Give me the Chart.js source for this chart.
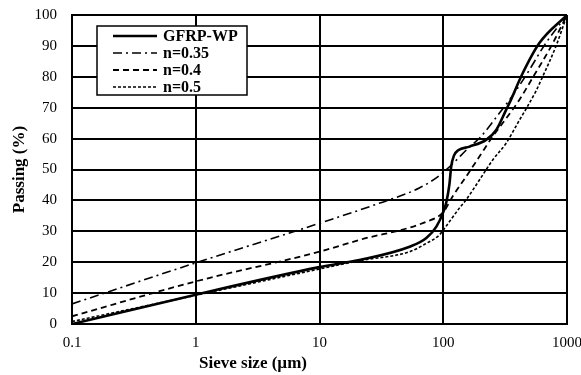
<!DOCTYPE html>
<html>
<head>
<meta charset="utf-8">
<script src="https://cdn.jsdelivr.net/npm/chart.js@4"></script>
<style>
  html, body { margin: 0; padding: 0; background: #fff; }
  canvas { display: block; }
</style>
</head>
<body>
<canvas id="c" width="581" height="375"></canvas>
<script>
// ---- data ----
const seriesNames = ['GFRP-WP', 'n=0.35', 'n=0.4', 'n=0.5'];
const gfrpSize = [0.1, 1, 10, 21, 53.5, 73, 88, 100, 106, 112, 116, 122, 132, 163, 222, 268, 322, 353, 426, 598, 1000];
const gfrpPass = [0, 9.5, 18.4, 20.7, 25, 27.8, 31.5, 36.2, 39.5, 45, 51, 54.5, 56.2, 57.4, 59.6, 62.8, 69.3, 72.6, 80.1, 90.9, 100];
const n035Size = [0.1, 1, 10, 30, 64, 93, 120, 160, 200, 275, 350, 467, 677, 1000];
const n035Pass = [6.5, 19.8, 32.6, 39, 44, 48, 52, 57, 60.5, 67.5, 73, 80.5, 91, 100];
const n040Size = [0.1, 1, 10, 21, 73, 100, 120, 153, 196, 251, 322, 413, 535, 743, 1000];
const n040Pass = [2.5, 13.8, 23.4, 27.2, 33.1, 36.2, 41.5, 47.7, 54.2, 60.7, 66.5, 72.6, 80.1, 89.8, 100];
const n050Size = [0.1, 1, 10, 21, 53.5, 73, 93, 100, 135, 153, 196, 251, 322, 413, 481, 563, 635, 816, 1000];
const n050Pass = [0.8, 9.3, 17.8, 20.5, 23.4, 26.1, 28.8, 30.4, 37.5, 40.2, 46.6, 53.1, 58.5, 66, 70.5, 75.5, 80, 90, 100];
const xTickValues = [0.1, 1, 10, 100, 1000];
const xTickLabels = ['0.1', '1', '10', '100', '1000'];
const xTitle = 'Sieve size (\u00b5m)';
const yTitle = 'Passing (%)';

const SERIF = '"Liberation Serif", "Times New Roman", serif';
const pts = (xs, ys) => xs.map((x, i) => ({ x: x, y: ys[i] }));

const styles = [
  { borderWidth: 2.6, borderDash: [] },
  { borderWidth: 1.6, borderDash: [9, 4, 2, 4] },
  { borderWidth: 1.8, borderDash: [6, 4] },
  { borderWidth: 1.6, borderDash: [3, 2] }
];
const sets = [[gfrpSize, gfrpPass], [n035Size, n035Pass], [n040Size, n040Pass], [n050Size, n050Pass]];

const datasets = sets.map((s, i) => ({
  label: seriesNames[i],
  data: pts(s[0], s[1]),
  borderColor: '#000',
  backgroundColor: '#000',
  borderWidth: styles[i].borderWidth,
  borderDash: styles[i].borderDash,
  pointRadius: 0,
  fill: false,
  cubicInterpolationMode: 'monotone',
  order: 3 - i
}));

const overlay = {
  id: 'overlay',
  afterDraw(chart) {
    const ctx = chart.ctx;
    const ca = chart.chartArea;
    ctx.save();
    ctx.fillStyle = '#000';
    ctx.font = 'bold 17px ' + SERIF;
    ctx.textAlign = 'center';
    ctx.textBaseline = 'middle';
    ctx.fillText(xTitle, 253, 364);
    ctx.translate(20, (ca.top + ca.bottom) / 2);
    ctx.rotate(-Math.PI / 2);
    ctx.fillText(yTitle, 0, 0);
    ctx.restore();

    ctx.save();
    const bx = 97, by = 26, bw = 150, bh = 69;
    ctx.fillStyle = '#fff';
    ctx.fillRect(bx, by, bw, bh);
    ctx.strokeStyle = '#000';
    ctx.lineWidth = 1.5;
    ctx.strokeRect(bx, by, bw, bh);
    const rows = [36, 53, 70, 87];
    chart.data.datasets.forEach((ds, i) => {
      const y = rows[i];
      ctx.beginPath();
      ctx.setLineDash(ds.borderDash);
      ctx.lineWidth = ds.borderWidth;
      ctx.strokeStyle = '#000';
      ctx.moveTo(113, y);
      ctx.lineTo(157, y);
      ctx.stroke();
      ctx.setLineDash([]);
      ctx.fillStyle = '#000';
      ctx.font = 'bold 16px ' + SERIF;
      ctx.textAlign = 'left';
      ctx.textBaseline = 'middle';
      ctx.fillText(ds.label, 163, y + 1);
    });
    ctx.restore();
  }
};

new Chart(document.getElementById('c'), {
  type: 'line',
  data: { datasets: datasets },
  options: {
    responsive: false,
    animation: false,
    devicePixelRatio: 1,
    layout: { padding: { left: 0, right: 14, top: 15, bottom: 0 } },
    plugins: { legend: { display: false }, tooltip: { enabled: false } },
    scales: {
      x: {
        type: 'logarithmic',
        min: 0.1,
        max: 1000,
        afterBuildTicks(scale) {
          scale.ticks = xTickValues.map(v => ({ value: v }));
        },
        afterFit(scale) {
          scale.height = 51;
          scale.paddingLeft = 0;
          scale.paddingRight = 0;
        },
        ticks: {
          autoSkip: false,
          maxRotation: 0,
          padding: 10,
          color: '#000',
          font: { family: SERIF, size: 15 },
          callback(value) {
            const i = xTickValues.indexOf(value);
            return i >= 0 ? xTickLabels[i] : '';
          }
        },
        grid: { color: '#000', lineWidth: 2, drawTicks: false },
        border: { color: '#000', width: 2 }
      },
      y: {
        type: 'linear',
        min: 0,
        max: 100,
        afterFit(scale) {
          scale.width = 72;
          scale.paddingTop = 0;
          scale.paddingBottom = 0;
        },
        ticks: {
          stepSize: 10,
          padding: 15,
          color: '#000',
          font: { family: SERIF, size: 15 }
        },
        grid: { color: '#000', lineWidth: 2, drawTicks: false },
        border: { color: '#000', width: 2 }
      }
    }
  },
  plugins: [overlay]
});
</script>
</body>
</html>
